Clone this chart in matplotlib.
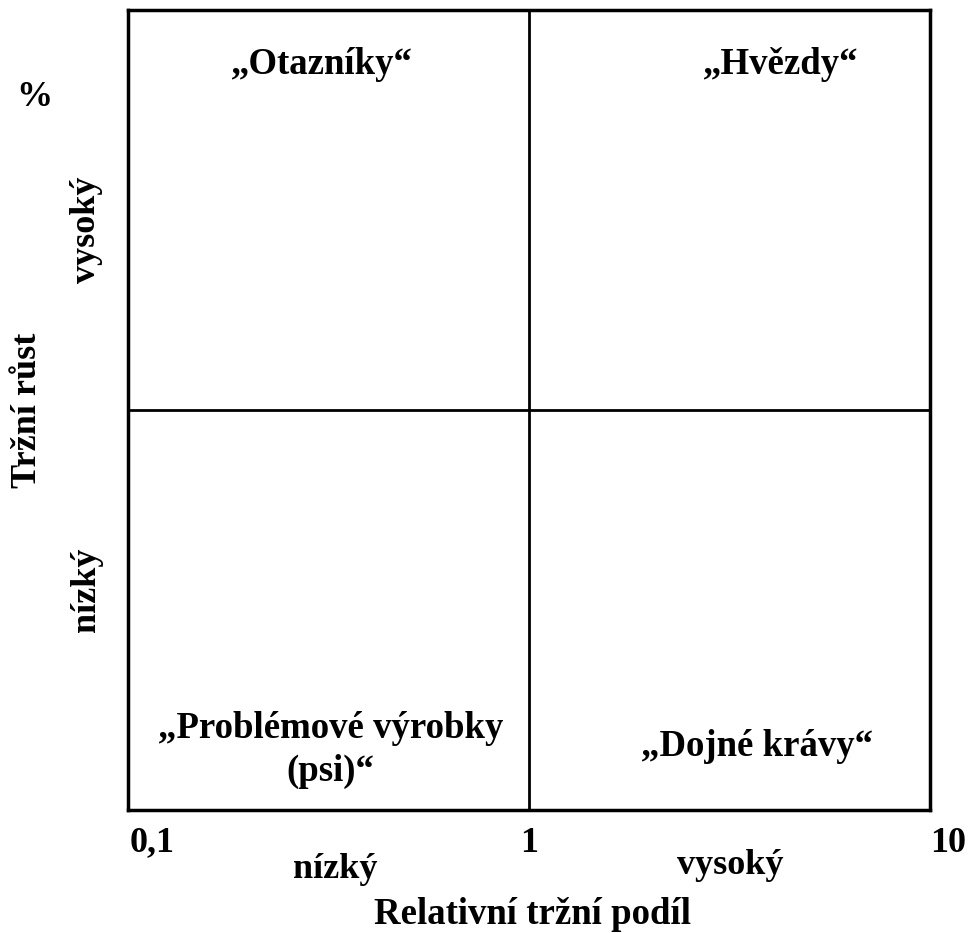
import matplotlib.pyplot as plt

plt.rcParams['font.family'] = ['Liberation Serif', 'DejaVu Serif']
plt.rcParams['font.weight'] = 'bold'

# BCG matrix: quadrant labels and axis wording
x_ticks = [0.1, 1, 10]
x_tick_labels = ["0,1", "1", "10"]
x_split = 1
y_split = 0.5
quadrants = {
    "„Otazníky“": (0.305, 0.932),
    "„Hvězdy“": (4.25, 0.932),
    "„Problémové výrobky\n(psi)“": (0.32, 0.075),
    "„Dojné krávy“": (3.7, 0.08),
}
x_levels = ["nízký", "vysoký"]
y_levels = ["nízký", "vysoký"]

fig = plt.figure(figsize=(9.7, 9.33), dpi=100)
ax = fig.add_axes([128 / 970, 1 - 810 / 933, 802 / 970, 800 / 933])
ax.set_xscale('log')
ax.set_xlim(0.1, 10)
ax.set_ylim(0, 1)
ax.axvline(x_split, color='black', lw=2)
ax.axhline(y_split, color='black', lw=2)
for s in ax.spines.values():
    s.set_linewidth(2.5)
ax.set_xticks([])
ax.set_yticks([])
ax.minorticks_off()

for label, (x, y) in quadrants.items():
    ax.text(x, y, label, ha='center', va='center', fontsize=26.5, fontweight='bold',
            linespacing=1.3)

# x tick labels drawn as figure text so they can sit at the edges
for t, lab in zip(x_ticks, x_tick_labels):
    xd, _ = ax.transData.transform((t, 0))
    xf = xd / fig.bbox.width
    ha = 'center'
    if lab == "0,1":
        xf, ha = 130 / 970, 'left'
    elif lab == "10":
        xf, ha = 966 / 970, 'right'
    fig.text(xf, 1 - 843 / 933, lab, ha=ha, va='center', fontsize=26, fontweight='bold')

fig.text(335 / 970, 1 - 870 / 933, x_levels[0], ha='center', va='center', fontsize=26)
fig.text(730 / 970, 1 - 866 / 933, x_levels[1], ha='center', va='center', fontsize=26)
fig.text(532 / 970, 1 - 915 / 933, "Relativní tržní podíl", ha='center', va='center',
         fontsize=26.5)

fig.text(34 / 970, 1 - 97 / 933, "%", ha='center', va='center', fontsize=26)
fig.text(87 / 970, 1 - 590 / 933, y_levels[0], ha='center', va='center', fontsize=26,
         rotation=90)
fig.text(87 / 970, 1 - 230 / 933, y_levels[1], ha='center', va='center', fontsize=26,
         rotation=90)
fig.text(28 / 970, 1 - 410 / 933, "Tržní růst", ha='center', va='center', fontsize=26,
         rotation=90)

fig.savefig('out.png', dpi=100)
